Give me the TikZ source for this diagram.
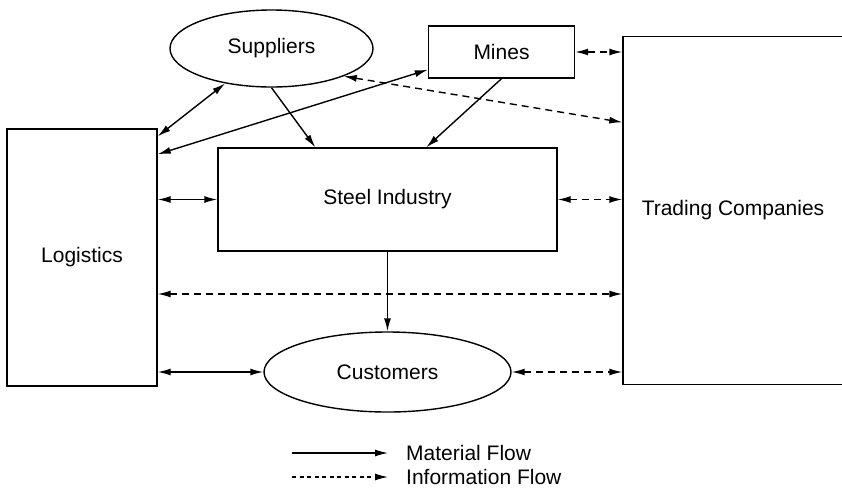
\documentclass[tikz,border=0pt]{standalone}
\usepackage{fontspec}
\setmainfont{Liberation Sans}
\usetikzlibrary{arrows.meta,shapes.geometric,calc}

\tikzset{
  lbl/.style={font=\fontsize{21}{25}\selectfont},
  box/.style={draw, line width=1.4pt, rectangle, inner sep=0pt, lbl},
  oval/.style={draw, line width=1.4pt, ellipse, inner sep=0pt, lbl},
  matflow/.style={line width=1.4pt, {Latex[length=13pt,width=7pt]}-{Latex[length=13pt,width=7pt]}},
  matone/.style={line width=1.4pt, -{Latex[length=13pt,width=7pt]}},
  infoflow/.style={line width=1.4pt, dash pattern=on 7pt off 5pt, {Latex[length=13pt,width=7pt]}-{Latex[length=13pt,width=7pt]}},
  keyline/.style={line width=1.2pt, -{Latex[length=13pt,width=7pt]}},
  keydash/.style={line width=1.2pt, dash pattern=on 4pt off 3.5pt, -{Latex[length=13pt,width=7pt]}},
  keytext/.style={anchor=west, inner sep=0pt, lbl}
}

\begin{document}
\begin{tikzpicture}[x=1pt, y=-1pt]
  \clip (0,0) rectangle (842,488);
  \fill[white] (0,0) rectangle (842,488);

  % actors
  \node[oval, minimum width=203pt, minimum height=77pt] (sup) at (271.5,48.5) {Suppliers};
  \node[box, minimum width=146pt, minimum height=52pt] (mines) at (501.5,52) {Mines};
  \node[box, minimum width=220pt, minimum height=348pt] (trade) at (733,210.5) {Trading Companies};
  \node[box, minimum width=150pt, minimum height=257pt] (log) at (82,257.5) {Logistics};
  \node[box, minimum width=339pt, minimum height=103pt] (steel) at (387.5,199.5) {Steel Industry};
  \node[oval, minimum width=247pt, minimum height=80pt] (cust) at (387.5,372) {Customers};

  % material flows
  \draw[matflow] (sup.217) -- ([yshift=-8pt]log.north east);
  \draw[matflow] ([yshift=9pt]mines.south west) -- ([yshift=-26pt]log.north east);
  \draw[matone] (sup.south) -- ([xshift=98pt]steel.north west);
  \draw[matone] (mines.south) -- ([xshift=209pt]steel.north west);
  \draw[matflow] (steel.west) -- (log.east |- steel.west);
  \draw[matone] (steel.south) -- (cust.north);
  \draw[matflow] (cust.west) -- (cust.west -| log.east);

  % information flows
  \draw[infoflow] (sup.339) -- ([yshift=-86.5pt]trade.north west);
  \draw[infoflow] (mines.east) -- (mines.east -| trade.west);
  \draw[infoflow] (steel.east) -- (steel.east -| trade.west);
  \coordinate (lt) at ([yshift=-36.5pt]log.east);
  \draw[infoflow] (lt) -- (lt -| trade.west);
  \draw[infoflow] (cust.east) -- (cust.east -| trade.west);

  % key
  \coordinate (k1a) at (292,453);
  \coordinate (k1b) at (388,453);
  \coordinate (k2a) at (292,477);
  \coordinate (k2b) at (388,477);
  \draw[keyline] (k1a) -- (k1b);
  \draw[keydash] (k2a) -- (k2b);
  \node[keytext] (kt1) at (406,453) {Material Flow};
  \node[keytext] (kt2) at (406,477) {Information Flow};
\end{tikzpicture}
\end{document}
